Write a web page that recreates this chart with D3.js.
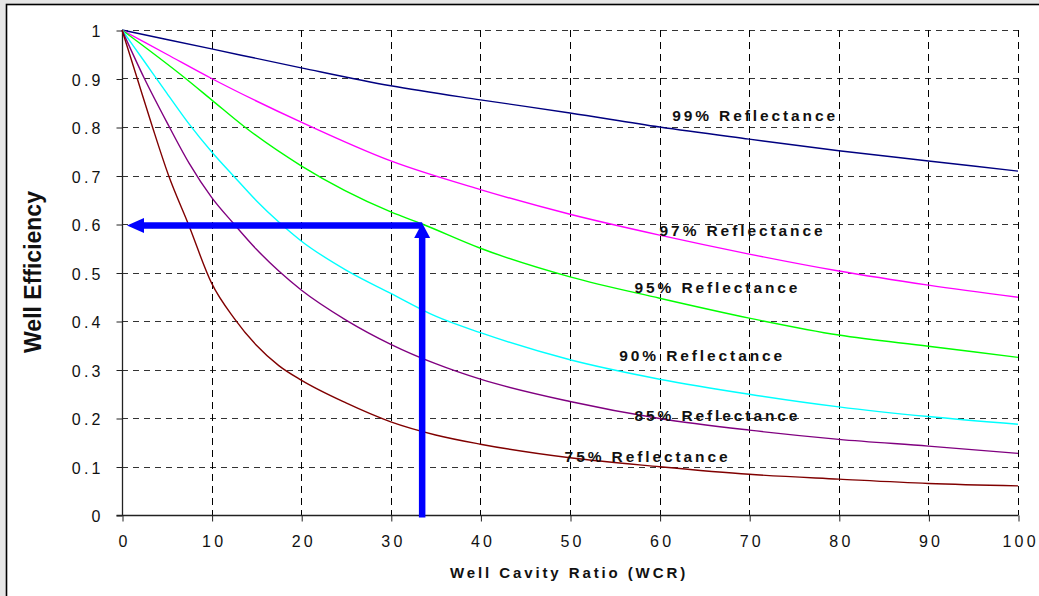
<!DOCTYPE html>
<html><head><meta charset="utf-8">
<script src="https://cdn.jsdelivr.net/npm/d3@7"></script>
<style>
html,body{margin:0;padding:0;background:#e6e6e6;}
svg{display:block;font-family:Arial,"Liberation Sans",Helvetica,sans-serif;}
</style></head>
<body><svg id="c" width="1039" height="596"></svg>
<script>
// ---- data ----
const xTicks = [0,10,20,30,40,50,60,70,80,90,100];
const xTickLabels = ["0","10","20","30","40","50","60","70","80","90","100"];
const yTicks = [0,0.1,0.2,0.3,0.4,0.5,0.6,0.7,0.8,0.9,1];
const yTickLabels = ["0","0.1","0.2","0.3","0.4","0.5","0.6","0.7","0.8","0.9","1"];

const r99x = [0,10,20,30,40,50,60,70,80,90,100];
const r99y = [1,0.961,0.922,0.885,0.856,0.829,0.80,0.775,0.751,0.730,0.709];
const r97x = [0,5,10,20,30,40,50,60,70,80,90,100];
const r97y = [1,0.95,0.90,0.81,0.73,0.671,0.62,0.577,0.538,0.503,0.474,0.449];
const r95x = [0,7.1,10,13.7,20,30,33.5,40,50,60,70,80,90,100];
const r95y = [1,0.90,0.856,0.80,0.72,0.625,0.60,0.55,0.491,0.447,0.406,0.371,0.348,0.325];
const r90x = [0,2.5,5,7.5,10,12.5,15,17.5,20,25,30,35,40,50,60,70,80,90,100];
const r90y = [1,0.935,0.87,0.806,0.749,0.698,0.648,0.604,0.565,0.505,0.457,0.41,0.376,0.32,0.28,0.249,0.223,0.203,0.187];
const r85x = [0,2.5,5,7.5,10,12.5,15,17.5,20,25,30,35,40,50,60,70,80,90,100];
const r85y = [1,0.90,0.81,0.725,0.655,0.60,0.548,0.503,0.464,0.402,0.352,0.312,0.28,0.234,0.199,0.175,0.156,0.142,0.127];
const r75x = [0,1.7,3.4,5.2,7.4,10,12.5,15,17.5,20,25,30,35,40,50,60,70,80,90,100];
const r75y = [1,0.90,0.80,0.70,0.60,0.478,0.406,0.350,0.308,0.278,0.231,0.192,0.165,0.146,0.118,0.0996,0.084,0.074,0.065,0.060];

const seriesNames = ["99% Reflectance","97% Reflectance","95% Reflectance","90% Reflectance","85% Reflectance","75% Reflectance"];
const seriesColors = ["#000080","#FF00FF","#00FF00","#00FFFF","#800080","#800000"];
const seriesX = [r99x,r97x,r95x,r90x,r85x,r75x];
const seriesY = [r99y,r97y,r95y,r90y,r85y,r75y];
// label anchors in data units (left of text, baseline)
const labelX = [61.4,60.0,57.2,55.5,57.2,49.4];
const labelY = [0.812,0.575,0.457,0.3175,0.194,0.11];

const readX = 33.5, readY = 0.6;

// ---- layout ----
const svg = d3.select("#c");
const L = 122, R = 1018, T = 30, B = 515;
const x = d3.scaleLinear().domain([0,100]).range([L,R]);
const y = d3.scaleLinear().domain([0,1]).range([B,T]);

svg.append("rect").attr("x",6.5).attr("y",4.5).attr("width",1100).attr("height",700)
  .attr("fill","#fff").attr("stroke","#000").attr("stroke-width",1.6);

// grid
const g = svg.append("g");
g.selectAll("line.hg").data(yTicks.filter(d=>d>0)).join("line")
  .attr("x1",L).attr("x2",R).attr("y1",d=>Math.round(y(d))+0.5).attr("y2",d=>Math.round(y(d))+0.5)
  .attr("stroke","#333").attr("stroke-width",1).attr("stroke-dasharray","6,5");
g.selectAll("line.vg").data(xTicks.filter(d=>d>0)).join("line")
  .attr("x1",d=>Math.round(x(d))+0.5).attr("x2",d=>Math.round(x(d))+0.5).attr("y1",T).attr("y2",B)
  .attr("stroke","#000").attr("stroke-width",1).attr("stroke-dasharray","7,5");

// axes
const ls = 3.2;
const yAxis = d3.axisLeft(y).tickValues(yTicks).tickSize(6).tickPadding(16)
  .tickFormat((d,i)=>yTickLabels[i]);
const ya = svg.append("g").attr("transform",`translate(${L+0.5},0.5)`).call(yAxis);
ya.select(".domain").attr("stroke","#222").attr("stroke-width",1.3).attr("d",`M0,${T}V${B}`);
ya.selectAll(".tick line").attr("stroke","#222");
ya.selectAll(".tick text").attr("font-size",16).attr("fill","#111")
  .attr("font-family","Arial,'Liberation Sans',sans-serif")
  .style("letter-spacing",ls+"px").attr("dx",ls).attr("dy","0.38em");

const xAxis = d3.axisBottom(x).tickValues(xTicks).tickSize(6).tickPadding(14)
  .tickFormat((d,i)=>xTickLabels[i]);
const xa = svg.append("g").attr("transform",`translate(0.5,${B+0.5})`).call(xAxis);
xa.select(".domain").attr("stroke","#222").attr("stroke-width",1.3).attr("d",`M${L-6},0H${R}`);
xa.selectAll(".tick line").attr("stroke","#222");
xa.selectAll(".tick text").attr("font-size",16).attr("fill","#111")
  .attr("font-family","Arial,'Liberation Sans',sans-serif")
  .style("letter-spacing",ls+"px").attr("dx",ls/2);

// series
const line = d3.line().x(d=>x(d[0])).y(d=>y(d[1])).curve(d3.curveMonotoneX);
seriesNames.forEach((n,i)=>{
  const pts = seriesX[i].map((v,j)=>[v,seriesY[i][j]]);
  svg.append("path").datum(pts).attr("d",line).attr("fill","none")
    .attr("stroke",seriesColors[i]).attr("stroke-width",1.4);
});

// labels
seriesNames.forEach((n,i)=>{
  svg.append("text").attr("x",x(labelX[i])).attr("y",y(labelY[i]))
    .attr("font-size",15.5).attr("font-weight","bold").attr("fill","#111")
    .style("letter-spacing","2.9px").text(n);
});

// reading arrows
const blue = "#0000FF";
const ax = x(readX), ay = y(readY);
svg.append("line").attr("x1",ax).attr("x2",ax).attr("y1",B+2.5).attr("y2",ay+12)
  .attr("stroke",blue).attr("stroke-width",6.5);
svg.append("path").attr("d",`M${ax},${ay-1}L${ax-8},${ay+14}L${ax+8},${ay+14}Z`).attr("fill",blue);
svg.append("line").attr("x1",ax).attr("x2",x(0)+20).attr("y1",ay+1.5).attr("y2",ay+1.5)
  .attr("stroke",blue).attr("stroke-width",6.5);
svg.append("path").attr("d",`M${x(0)+5},${ay+1.5}L${x(0)+22},${ay-6}L${x(0)+22},${ay+9}Z`).attr("fill",blue);

// axis titles
svg.append("text").attr("x",569).attr("y",578).attr("text-anchor","middle")
  .attr("font-size",15).attr("font-weight","bold").attr("fill","#111")
  .style("letter-spacing","2.9px").text("Well Cavity Ratio (WCR)");
svg.append("text").attr("transform","translate(41,272) rotate(-90)").attr("text-anchor","middle")
  .attr("font-size",23).attr("font-weight","bold").attr("fill","#111")
  .text("Well Efficiency");
</script></body></html>
